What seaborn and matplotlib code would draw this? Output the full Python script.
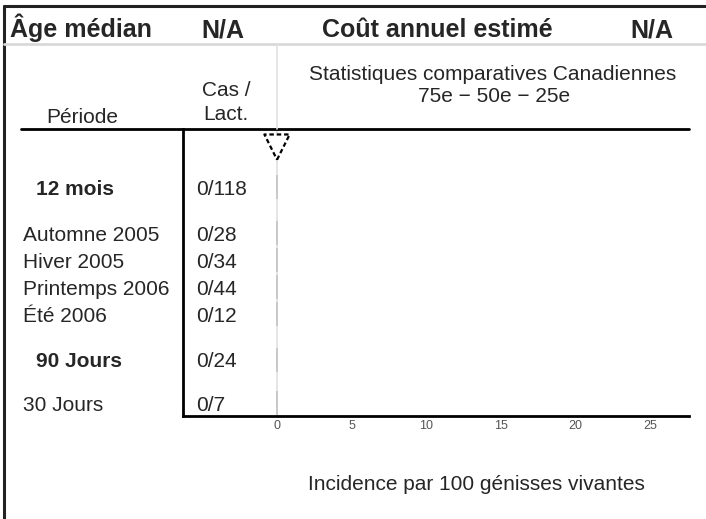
import matplotlib
matplotlib.use("Agg")
import matplotlib.pyplot as plt
import matplotlib.transforms as mtrans
from matplotlib.lines import Line2D
import seaborn as sns
import pandas as pd

# data
periods = ["12 mois", "Automne 2005", "Hiver 2005", "Printemps 2006", "Été 2006", "90 Jours", "30 Jours"]
is_summary = [True, False, False, False, False, True, False]
cases = [0, 0, 0, 0, 0, 0, 0]
lactations = [118, 28, 34, 44, 12, 24, 7]
incidence = [0, 0, 0, 0, 0, 0, 0]
benchmark = [0]          # canadian percentile marker (triangle)
x_ticks = [0, 5, 10, 15, 20, 25]

median_age = "N/A"
annual_cost = "N/A"

# layout (row spacing in units of one season row)
row_pos = [0, 1.7, 2.7, 3.7, 4.7, 6.4, 8.0]

W, H = 706, 519
sns.set_theme(style="white")
plt.rcParams["font.family"] = ["Liberation Sans", "DejaVu Sans"]

fig = plt.figure(figsize=(W / 100, H / 100), dpi=100)
ax = fig.add_axes([183 / W, 1 - 416 / H, (689 - 183) / W, (416 - 129) / H])


def fx(x):
    return x / W


def fy(y):
    return 1 - y / H


df = pd.DataFrame({"periode": periods, "pos": row_pos, "incidence": incidence})

# faint reference line at 0
ax.axvline(0, color="#e0e0e0", lw=1.2, zorder=0)
sns.barplot(data=df, x="incidence", y="pos", orient="h", native_scale=True,
            color="white", edgecolor="#c4c4c4", linewidth=1.2, width=0.9,
            errorbar=None, ax=ax)
sns.scatterplot(x=benchmark, y=[-1.48], marker="v", s=330, color="white",
                edgecolor="black", linewidth=1.6, linestyle=(0, (2, 1.3)),
                ax=ax, zorder=5, clip_on=False)

ax.set_xlim(-6.3, 27.6)
ax.set_ylim(8.48, -2.15)
ax.set_xticks(x_ticks)
ax.set_xticklabels([str(t) for t in x_ticks])
ax.tick_params(axis="x", length=0, pad=3, labelsize=9, labelcolor="#555555")
ax.set_yticks([])
ax.set_xlabel("")
ax.set_ylabel("")
for s in ["top", "right"]:
    ax.spines[s].set_visible(False)
for s in ["left", "bottom"]:
    ax.spines[s].set_color("black")
    ax.spines[s].set_linewidth(2)

# row labels and case counts
tr = mtrans.blended_transform_factory(fig.transFigure, ax.transData)
for lab, bold, pos, c, n in zip(periods, is_summary, row_pos, cases, lactations):
    fig.text(fx(36 if bold else 23), pos + 0.28, lab, transform=tr, fontsize=15,
             fontweight="bold" if bold else "normal", va="baseline", ha="left")
    fig.text(fx(196), pos + 0.28, f"{c}/{n}", transform=tr, fontsize=15,
             va="baseline", ha="left")

# frame and header lines
lines = [
    ([4, 4], [6, H], "#222222", 2.2),
    ([4, W], [6, 6], "#222222", 2.2),
    ([4, W], [44, 44], "#d9d9d9", 2),
    ([21, 689], [129, 129], "black", 2),
]
for xs, ys, col, lw in lines:
    fig.add_artist(Line2D([fx(v) for v in xs], [fy(v) for v in ys], color=col, lw=lw))
tr0 = mtrans.blended_transform_factory(ax.transData, fig.transFigure)
fig.add_artist(Line2D([0, 0], [fy(44), fy(129)], transform=tr0, color="#e0e0e0", lw=1.2))

# header
fig.text(fx(10), fy(37), "Âge médian", fontsize=18, fontweight="bold", va="baseline")
fig.text(fx(201), fy(37), median_age, fontsize=18, fontweight="bold", va="baseline")
fig.text(fx(437), fy(37), "Coût annuel estimé", fontsize=18, fontweight="bold",
         va="baseline", ha="center")
fig.text(fx(673), fy(37), annual_cost, fontsize=18, fontweight="bold",
         va="baseline", ha="right")

fig.text(fx(493), fy(80.5), "Statistiques comparatives Canadiennes", fontsize=15,
         ha="center", va="baseline")
fig.text(fx(494), fy(102.5), "75e \u2212 50e \u2212 25e", fontsize=15,
         ha="center", va="baseline")
fig.text(fx(226), fy(95.5), "Cas /", fontsize=15, ha="center", va="baseline")
fig.text(fx(226), fy(120.5), "Lact.", fontsize=15, ha="center", va="baseline")
fig.text(fx(82), fy(123), "Période", fontsize=15, ha="center", va="baseline")

fig.text(fx(476), fy(489.5), "Incidence par 100 génisses vivantes", fontsize=15,
         ha="center", va="baseline")

fig.savefig("out.png", dpi=100, facecolor="white")
